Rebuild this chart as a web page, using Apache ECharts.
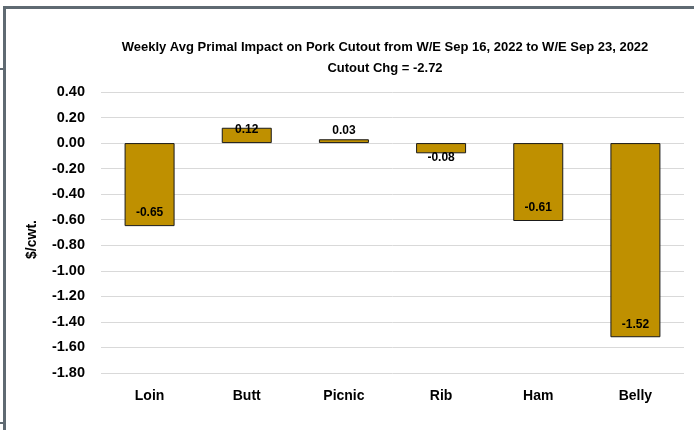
<!DOCTYPE html>
<html>
<head>
<meta charset="utf-8">
<script src="https://cdn.jsdelivr.net/npm/echarts@6/dist/echarts.min.js"></script>
<style>
  html, body { margin: 0; padding: 0; background: #fff; }
  #wrap { position: relative; width: 694px; height: 430px; overflow: hidden; }
  #chart { position: absolute; left: 0; top: 0; width: 694px; height: 430px; }
  /* chart-area frame (top and left edges) */
  #frame { position: absolute; left: 3px; top: 6px; width: 720px; height: 460px;
           border-left: 3px solid #5f6a72; border-top: 3px solid #5f6a72; pointer-events: none; }
  .tick { position: absolute; left: 0; width: 3px; height: 2px; background: #5f6a72; }
</style>
</head>
<body>
<div id="wrap">
  <div id="chart"></div>
  <div id="frame"></div>
  <div class="tick" style="top:68px"></div>
  <div class="tick" style="top:422px"></div>
</div>
<script>
// Primal cuts and their weekly impact on the pork cutout ($/cwt.)
const categories = ['Loin', 'Butt', 'Picnic', 'Rib', 'Ham', 'Belly'];
const impacts = [-0.65, 0.12, 0.03, -0.08, -0.61, -1.52];

const titleLines = [
  'Weekly Avg Primal Impact on Pork Cutout from W/E Sep 16, 2022 to W/E Sep 23, 2022',
  'Cutout Chg = -2.72'
];
const yAxisTitle = '$/cwt.';
const yMin = -1.8, yMax = 0.4, yStep = 0.2;

// where each value label sits relative to its bar
const labelPlacement = [
  { position: 'insideBottom', distance: 7 },
  { position: 'insideTop', distance: -4 },
  { position: 'top', distance: 3 },
  { position: 'bottom', distance: -2 },
  { position: 'insideBottom', distance: 7 },
  { position: 'insideBottom', distance: 7 }
];

const FONT = '"Liberation Sans", Arial, sans-serif';

const chart = echarts.init(document.getElementById('chart'), null, { renderer: 'canvas' });

chart.setOption({
  backgroundColor: '#ffffff',
  animation: false,
  title: {
    text: titleLines.join('\n'),
    left: 385,
    top: 37,
    padding: 0,
    textAlign: 'center',
    textStyle: {
      fontFamily: FONT, fontSize: 13, fontWeight: 'bold', color: '#000', lineHeight: 21
    }
  },
  grid: { left: 101, right: 10, top: 92, bottom: 57 },
  xAxis: {
    type: 'category',
    data: categories,
    axisLine: { show: false },
    axisTick: { show: false },
    axisLabel: {
      fontFamily: FONT, fontSize: 14, fontWeight: 'bold', color: '#000', margin: 16
    },
    position: 'bottom'
  },
  yAxis: {
    type: 'value',
    min: yMin, max: yMax, interval: yStep,
    name: yAxisTitle,
    nameLocation: 'middle',
    nameGap: 62,
    nameRotate: 90,
    nameTextStyle: {
      fontFamily: FONT, fontSize: 14, fontWeight: 'bold', color: '#000',
      padding: [0, 14, 0, 0]
    },
    axisLine: { show: false },
    axisTick: { show: false },
    axisLabel: {
      fontFamily: FONT, fontSize: 14.5, fontWeight: 'bold', color: '#000', margin: 16,
      formatter: v => v.toFixed(2)
    },
    splitLine: { lineStyle: { color: '#d9d9d9', width: 1 } }
  },
  series: [{
    type: 'bar',
    barWidth: 50,
    data: impacts.map((v, i) => ({
      value: v,
      label: {
        show: true,
        position: labelPlacement[i].position,
        distance: labelPlacement[i].distance
      }
    })),
    itemStyle: { color: '#bf9000', borderColor: '#1a1a1a', borderWidth: 1 },
    label: {
      show: true,
      fontFamily: FONT, fontSize: 12, fontWeight: 'bold', color: '#000',
      formatter: p => p.value.toFixed(2)
    }
  }]
});
</script>
</body>
</html>
